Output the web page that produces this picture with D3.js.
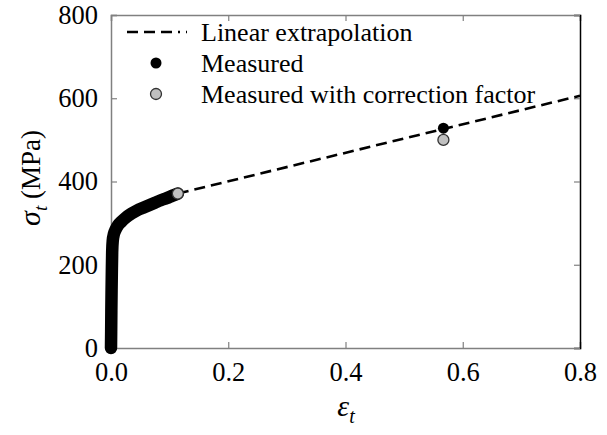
<!DOCTYPE html>
<html><head><meta charset="utf-8">
<script src="https://cdn.jsdelivr.net/npm/d3@7"></script>
<style>body{margin:0;background:#fff}svg{display:block}</style>
</head><body>
<script>
// Data
const curveStrain = [0, 0.0003, 0.0006, 0.001, 0.0015, 0.002, 0.003, 0.005, 0.008, 0.012, 0.018, 0.025, 0.035, 0.045, 0.055, 0.065, 0.075, 0.085, 0.095, 0.105, 0.114];
const curveStress = [0, 40, 90, 140, 190, 230, 258, 274, 285, 295, 304, 313, 323, 331, 337, 343, 349, 355, 360, 366, 371];
const extrapStrain = [0.114, 0.8];
const extrapStress = [371, 606];
const measuredStrain = [0.567];
const measuredStress = [528];
const correctedStrain = [0.114, 0.567];
const correctedStress = [371, 500];
const xTicks = [0, 0.2, 0.4, 0.6, 0.8];
const yTicks = [0, 200, 400, 600, 800];
const legendLabels = ["Linear extrapolation", "Measured", "Measured with correction factor"];

const W = 607, H = 435;
const m = {l: 111, r: 27, t: 15, b: 87};
const font = "Liberation Serif";
const svg = d3.select("body").append("svg").attr("width", W).attr("height", H);
const x = d3.scaleLinear().domain([0, 0.8]).range([m.l, W - m.r]);
const y = d3.scaleLinear().domain([0, 800]).range([H - m.b, m.t]);
const gray = "#808080";

// Axes
const tickLen = 6;
const xb = svg.append("g").attr("transform", `translate(0,${H - m.b})`)
  .call(d3.axisBottom(x).tickValues(xTicks).tickSize(-tickLen).tickPadding(14).tickFormat(d3.format(".1f")));
const xt = svg.append("g").attr("transform", `translate(0,${m.t})`)
  .call(d3.axisTop(x).tickValues(xTicks).tickSize(-tickLen).tickFormat(""));
const yl = svg.append("g").attr("transform", `translate(${m.l},0)`)
  .call(d3.axisLeft(y).tickValues(yTicks).tickSize(-tickLen).tickPadding(13).tickFormat(d3.format("d")));
const yr = svg.append("g").attr("transform", `translate(${W - m.r},0)`)
  .call(d3.axisRight(y).tickValues(yTicks).tickSize(-tickLen).tickFormat(""));
[xb, xt, yl, yr].forEach(g => {
  g.attr("font-family", font).attr("font-size", 26.5);
  g.selectAll(".domain").attr("stroke", gray).attr("stroke-width", 1.5);
  g.selectAll(".tick line").attr("stroke", gray).attr("stroke-width", 1.2);
  g.selectAll("text").attr("fill", "#000");
});
yr.select(".domain").attr("stroke", "#000");
xb.selectAll(".tick text").attr("dy", "0.71em");

// Extrapolation line
const pts = (xs, ys) => xs.map((v, i) => [v, ys[i]]);
const line = d3.line().x(d => x(d[0])).y(d => y(d[1]));
svg.append("path").datum(pts(extrapStrain, extrapStress)).attr("d", line)
  .attr("fill", "none").attr("stroke", "#000").attr("stroke-width", 2.6).attr("stroke-dasharray", "11,6");

// Thick measured curve
svg.append("path").datum(pts(curveStrain, curveStress)).attr("d", d3.line().curve(d3.curveMonotoneX).x(d => x(d[0])).y(d => y(d[1])))
  .attr("fill", "none").attr("stroke", "#000").attr("stroke-width", 12.5)
  .attr("stroke-linecap", "round").attr("stroke-linejoin", "round");

// Points
svg.selectAll("circle.corr").data(pts(correctedStrain, correctedStress)).enter().append("circle")
  .attr("class", "corr").attr("cx", d => x(d[0])).attr("cy", d => y(d[1])).attr("r", 5.5)
  .attr("fill", "#c0c0c0").attr("stroke", "#333").attr("stroke-width", 1.3);
svg.selectAll("circle.meas").data(pts(measuredStrain, measuredStress)).enter().append("circle")
  .attr("class", "meas").attr("cx", d => x(d[0])).attr("cy", d => y(d[1])).attr("r", 5.5)
  .attr("fill", "#000");

// Legend
const lg = svg.append("g").attr("font-family", font);
const lx = 127, ly = [32, 63, 94];
lg.append("line").attr("x1", lx).attr("x2", lx + 60).attr("y1", ly[0]).attr("y2", ly[0])
  .attr("stroke", "#000").attr("stroke-width", 2.6).attr("stroke-dasharray", "11,6,11,6,11,6,2,6");
lg.append("circle").attr("cx", lx + 29).attr("cy", ly[1]).attr("r", 5.5).attr("fill", "#000");
lg.append("circle").attr("cx", lx + 29).attr("cy", ly[2]).attr("r", 5.5).attr("fill", "#c0c0c0").attr("stroke", "#333").attr("stroke-width", 1.3);
legendLabels.forEach((t, i) => {
  lg.append("text").attr("x", 201).attr("y", ly[i] + 8.5).text(t)
    .attr("font-size", 26).attr("fill", "#000");
});

// Axis titles
const xtitle = svg.append("text").attr("x", 346).attr("y", 416).attr("text-anchor", "middle")
  .attr("font-family", font).attr("font-size", 30);
xtitle.append("tspan").attr("font-style", "italic").text("ε");
xtitle.append("tspan").attr("font-style", "italic").attr("font-size", 20).attr("dy", 7).text("t");

const ytitle = svg.append("text").attr("transform", "translate(40,178) rotate(-90)").attr("text-anchor", "middle")
  .attr("font-family", font).attr("font-size", 27);
ytitle.append("tspan").attr("font-style", "italic").attr("font-size", 30).text("σ");
ytitle.append("tspan").attr("font-style", "italic").attr("font-size", 19).attr("dy", 7).text("t");
ytitle.append("tspan").attr("dy", -7).text(" (MPa)");
</script>
</body></html>
